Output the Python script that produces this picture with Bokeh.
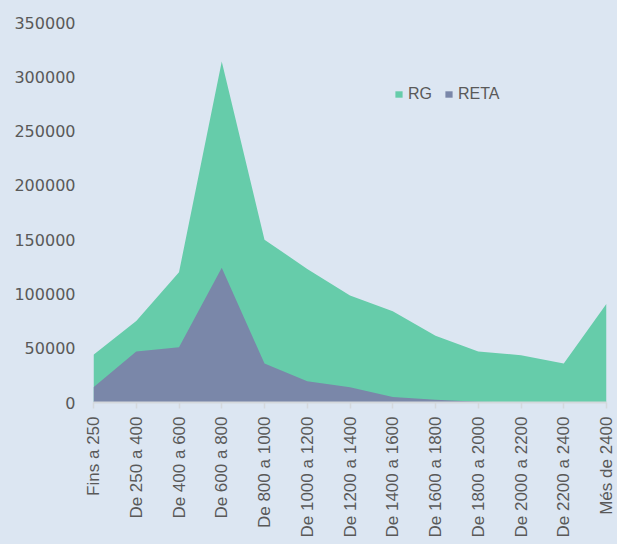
import math
from bokeh.plotting import figure
from bokeh.models import ColumnDataSource, Range1d, FixedTicker, NumeralTickFormatter, Legend, LegendItem
from bokeh.embed import file_html
from bokeh.resources import INLINE

categories = ["Fins a 250", "De 250 a 400", "De 400 a 600", "De 600 a 800", "De 800 a 1000",
              "De 1000 a 1200", "De 1200 a 1400", "De 1400 a 1600", "De 1600 a 1800",
              "De 1800 a 2000", "De 2000 a 2200", "De 2200 a 2400", "Més de 2400"]
rg = [44000, 75000, 120000, 314000, 150000, 123000, 98500, 84000, 61500, 47000, 43500, 36000, 91000]
reta = [14000, 47000, 51000, 124000, 36000, 19500, 14000, 5000, 2500, 800, 0, 0, 0]
y_ticks = [0, 50000, 100000, 150000, 200000, 250000, 300000, 350000]

BG = "#DCE6F2"
GREEN = "#66CCAA"
PURPLE = "#7A87A9"
TEXT = "#595959"

x = list(range(len(categories)))
src = ColumnDataSource(dict(x=x, rg=rg, reta=reta, zero=[0] * len(x)))

p = figure(width=617, height=544, output_backend="svg", toolbar_location=None,
           x_range=Range1d(0, len(categories) - 1), y_range=Range1d(0, 350000),
           min_border_left=93, min_border_right=11, min_border_top=22, min_border_bottom=142)
p.background_fill_color = BG
p.border_fill_color = BG
p.outline_line_color = None
p.xgrid.grid_line_color = None
p.ygrid.grid_line_color = None

r_rg = p.varea(x="x", y1="zero", y2="rg", source=src, fill_color=GREEN)
r_reta = p.varea(x="x", y1="zero", y2="reta", source=src, fill_color=PURPLE)

xa = p.xaxis[0]
xa.ticker = FixedTicker(ticks=x)
xa.major_label_overrides = {i: c for i, c in enumerate(categories)}
xa.major_label_orientation = math.pi / 2
xa.axis_line_color = "#D4D8DC"
xa.axis_line_width = 2
xa.major_tick_line_color = "#D4D8DC"
xa.major_tick_line_width = 1.5
xa.major_tick_out = 6
xa.major_tick_in = 0
xa.minor_tick_line_color = None
xa.major_label_standoff = 8
xa.major_label_text_font = "Liberation Sans"
xa.major_label_text_font_size = "17px"
xa.major_label_text_color = TEXT

ya = p.yaxis[0]
ya.ticker = FixedTicker(ticks=y_ticks)
ya.formatter = NumeralTickFormatter(format="0")
ya.axis_line_color = None
ya.major_tick_line_color = None
ya.minor_tick_line_color = None
ya.major_tick_out = 0
ya.major_tick_in = 0
ya.major_label_standoff = 18
ya.major_label_text_font = "DejaVu Sans"
ya.major_label_text_font_size = "16px"
ya.major_label_text_color = TEXT

legend = Legend(items=[LegendItem(label="RG", renderers=[r_rg]),
                       LegendItem(label="RETA", renderers=[r_reta])],
                location=(301, 299), orientation="horizontal",
                padding=0, margin=0, spacing=12, label_standoff=5,
                glyph_width=9, glyph_height=8, label_height=16,
                label_text_font="Liberation Sans", label_text_font_size="16px",
                label_text_color=TEXT,
                background_fill_alpha=0, border_line_alpha=0)
p.add_layout(legend)

html = file_html(p, INLINE)
html = html.replace("<body>", '<body style="background-color:%s;">' % BG, 1)
html = html.replace("<html", '<html style="background-color:%s;"' % BG, 1)
open("out.html", "w").write(html)
